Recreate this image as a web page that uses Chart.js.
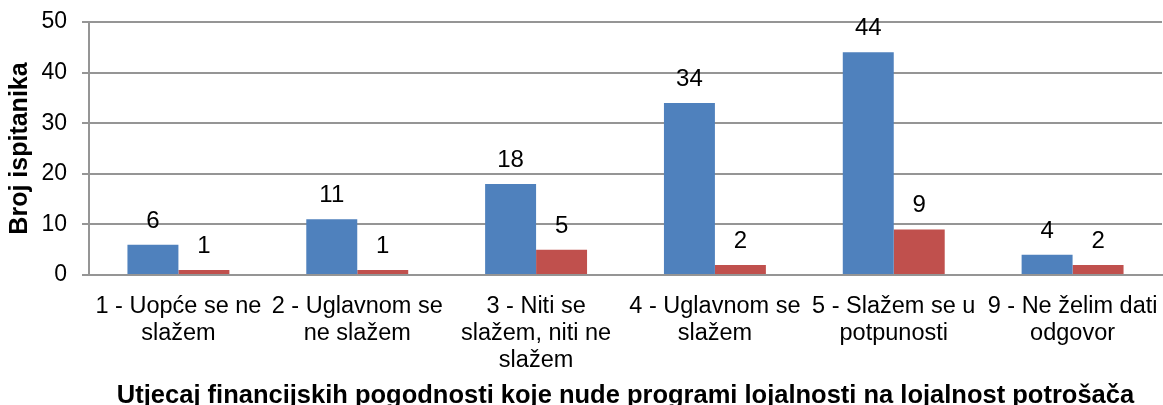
<!DOCTYPE html>
<html>
<head>
<meta charset="utf-8">
<script src="https://cdn.jsdelivr.net/npm/chart.js@4/dist/chart.umd.min.js"></script>
<style>
  html, body { margin: 0; padding: 0; background: #fff; }
  #wrap { width: 1163px; height: 405px; position: relative; }
</style>
</head>
<body>
<div id="wrap"><canvas id="chart"></canvas></div>
<script>
// kategorije (odgovori na skali)
const categories = [
    ['1 - Uopće se ne', 'slažem'],
    ['2 - Uglavnom se', 'ne slažem'],
    ['3 - Niti se', 'slažem, niti ne', 'slažem'],
    ['4 - Uglavnom se', 'slažem'],
    ['5 - Slažem se u', 'potpunosti'],
    ['9 - Ne želim dati', 'odgovor']
];
const seriesBlue = [6, 11, 18, 34, 44, 4];
const seriesRed = [1, 1, 5, 2, 9, 2];
const yMin = 0, yMax = 50, yStep = 10;

const yTitle = 'Broj ispitanika';
const xTitle = 'Utjecaj financijskih pogodnosti koje nude programi lojalnosti na lojalnost potrošača';

Chart.defaults.font.family = '"Liberation Sans", Arial, sans-serif';
Chart.defaults.color = '#000';

// brojevi iznad stupaca
const valueLabels = {
    id: 'valueLabels',
    afterDatasetsDraw(chart) {
        const c = chart.ctx;
        c.save();
        c.font = '24px "Liberation Sans", Arial, sans-serif';
        c.fillStyle = '#000';
        c.textAlign = 'center';
        c.textBaseline = 'alphabetic';
        chart.data.datasets.forEach((ds, i) => {
            chart.getDatasetMeta(i).data.forEach((bar, j) => {
                c.fillText(String(ds.data[j]), bar.x, bar.y - 17);
            });
        });
        c.restore();
    }
};

new Chart(document.getElementById('chart'), {
    type: 'bar',
    data: {
        labels: categories,
        datasets: [{
            label: 'Serija 1',
            data: seriesBlue,
            backgroundColor: '#4F81BD',
            borderWidth: 0
        }, {
            label: 'Serija 2',
            data: seriesRed,
            backgroundColor: '#C0504D',
            borderWidth: 0
        }]
    },
    options: {
        responsive: true,
        maintainAspectRatio: false,
        animation: false,
        datasets: {
            bar: { categoryPercentage: 0.57, barPercentage: 1.0 }
        },
        layout: { padding: { top: 22, right: 1, bottom: 0, left: 0 } },
        plugins: {
            legend: { display: false },
            tooltip: { enabled: false }
        },
        scales: {
            x: {
                grid: { display: false, drawTicks: false },
                border: { display: true, color: '#959595', width: 2 },
                ticks: {
                    autoSkip: false,
                    maxRotation: 0,
                    minRotation: 0,
                    padding: 18,
                    font: { size: 23.5, lineHeight: 1.15 }
                },
                title: {
                    display: true,
                    text: xTitle,
                    font: { size: 25.5, weight: 'bold', lineHeight: 0.72 },
                    padding: { top: 0, bottom: 0 }
                },
                afterFit(scale) {
                    scale.height = 130;
                    scale.paddingLeft = 0;
                    scale.paddingRight = 0;
                }
            },
            y: {
                min: yMin,
                max: yMax,
                ticks: {
                    stepSize: yStep,
                    padding: 15,
                    font: { size: 23 }
                },
                grid: { color: '#959595', lineWidth: 2, tickLength: 7 },
                border: { display: true, color: '#959595', width: 2 },
                title: {
                    display: true,
                    text: yTitle,
                    font: { size: 25, weight: 'bold', lineHeight: 1.2 },
                    padding: { top: 5, bottom: 0 }
                },
                afterFit(scale) {
                    scale.width = 89;
                    scale.paddingTop = 0;
                    scale.paddingBottom = 0;
                }
            }
        }
    },
    plugins: [valueLabels]
});
</script>
</body>
</html>
